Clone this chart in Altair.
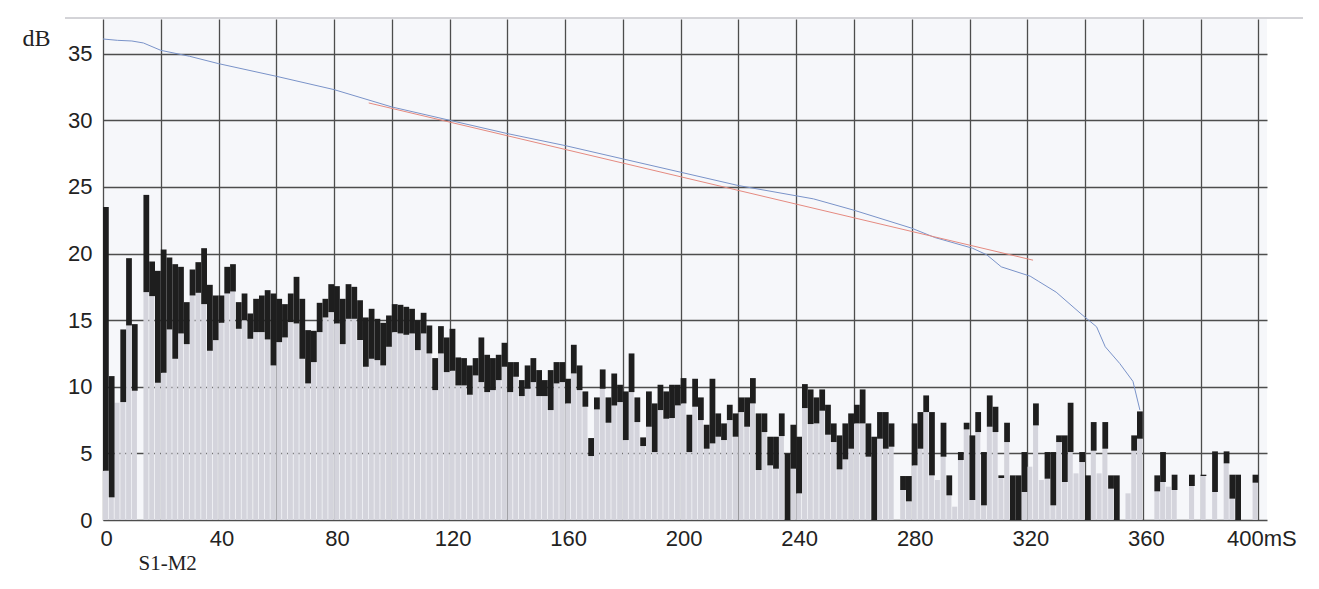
import altair as alt
import pandas as pd

# time bins (ms), one bar per 2 ms
t_ms = list(range(0, 400, 2))

# upper edge of the black segment (dB)
hi_db = [23.5, 10.8, 8.8, 14.3, 19.65, 14.7, 0, 24.4, 19.4, 18.7,
         20.3, 19.7, 19.2, 19.0, 16.35, 18.8, 19.35, 20.4, 17.65, 16.85,
         16.85, 19.0, 19.2, 16.35, 17.0, 15.5, 16.6, 16.85, 17.25, 17.0,
         16.6, 16.2, 17.0, 18.25, 16.6, 14.25, 14.2, 16.3, 16.6, 17.7,
         17.55, 16.6, 17.7, 17.5, 16.5, 15.2, 15.85, 15.1, 14.8, 15.35,
         16.2, 16.15, 16.0, 15.85, 15.0, 15.55, 14.6, 12.15, 14.55, 13.7,
         14.35, 12.2, 12.15, 11.6, 12.15, 13.7, 12.4, 12.15, 12.4, 13.3,
         11.85, 11.85, 10.5, 11.6, 12.15, 11.25, 10.5, 11.25, 11.85, 11.85,
         10.6, 13.15, 11.6, 9.65, 6.15, 9.2, 11.3, 9.2, 11.0, 10.15,
         9.65, 12.5, 9.2, 6.2, 9.65, 8.75, 10.15, 9.65, 10.15, 10.15,
         10.65, 7.9, 10.6, 9.2, 7.15, 10.6, 8.0, 7.25, 8.65, 8.0,
         9.2, 9.2, 10.65, 8.0, 8.0, 6.25, 6.25, 8.0, 5.0, 7.15,
         6.25, 10.2, 9.8, 9.2, 9.8, 8.65, 7.25, 6.35, 7.25, 8.0,
         8.65, 9.8, 7.25, 6.25, 8.1, 8.1, 7.25, 0, 3.3, 3.3,
         7.25, 8.1, 9.35, 8.1, 3.0, 7.3, 3.35, 1.0, 5.1, 7.3,
         6.35, 8.1, 5.1, 9.35, 8.5, 3.35, 7.3, 3.35, 3.35, 5.1,
         4.0, 8.75, 3.0, 5.1, 5.1, 6.35, 6.35, 8.8, 3.5, 5.1,
         3.35, 7.35, 3.5, 7.35, 3.35, 3.35, 0, 2.0, 6.35, 8.15,
         0, 0, 3.35, 5.1, 2.5, 3.4, 0, 0, 3.4, 0,
         3.4, 0, 5.15, 0, 5.15, 3.4, 3.4, 0, 0, 3.4]

# lower edge of the black segment = top of the grey bar (dB)
lo_db = [3.7, 1.7, 8.8, 8.85, 14.6, 9.7, 0, 17.1, 16.8, 10.3,
         11.05, 14.3, 12.1, 14.0, 13.2, 16.85, 17.05, 16.2, 12.7, 13.5,
         14.8, 17.0, 17.15, 14.35, 15.0, 13.6, 14.1, 14.1, 13.55, 11.6,
         13.35, 13.7, 14.85, 14.75, 12.1, 10.25, 11.85, 14.1, 15.2, 15.6,
         14.75, 13.2, 15.1, 15.1, 13.5, 11.5, 12.1, 12.0, 11.6, 13.0,
         14.1, 14.0, 13.9, 14.0, 12.75, 14.0, 12.5, 9.75, 12.5, 11.1,
         11.2, 10.1, 10.1, 9.4, 10.85, 10.35, 9.6, 9.75, 10.5, 11.5,
         9.6, 10.75, 9.3, 9.85, 10.35, 9.3, 9.3, 8.25, 10.25, 10.35,
         8.75, 11.0, 9.75, 8.5, 4.8, 8.3, 9.85, 7.3, 8.6, 8.85,
         6.0, 9.6, 7.35, 5.55, 7.0, 5.1, 8.25, 7.6, 7.65, 8.6,
         8.75, 5.1, 8.5, 7.5, 5.35, 5.75, 6.25, 6.0, 7.5, 6.25,
         8.1, 7.0, 8.75, 3.75, 6.6, 4.1, 3.85, 6.3, 0, 3.85,
         2.0, 8.4, 7.2, 7.25, 8.2, 6.4, 5.85, 3.8, 4.55, 5.35,
         7.25, 7.25, 4.75, 0, 6.1, 5.35, 5.5, 0, 2.25, 1.4,
         4.1, 5.35, 8.1, 3.35, 3.0, 4.75, 1.85, 1.0, 4.5, 6.8,
         1.5, 6.6, 1.1, 7.0, 6.6, 3.15, 5.85, 0, 0, 2.1,
         4.0, 7.1, 3.0, 3.1, 1.1, 5.85, 2.85, 5.1, 3.5, 4.35,
         0, 5.2, 3.5, 5.35, 2.35, 0, 0, 2.0, 5.2, 6.1,
         0, 0, 2.15, 2.85, 2.5, 2.25, 0, 0, 2.55, 0,
         3.3, 0, 2.1, 0, 4.25, 1.6, 0, 0, 0, 2.8]

# decay curve (blue)
decay_ms = [0, 5, 10, 14, 20, 30, 40, 60, 80, 100, 120, 140, 160, 180, 200,
            220, 246, 260, 280, 288, 301, 306, 311, 321, 324, 330, 339, 344,
            347, 352, 356.6, 359]
decay_db = [36.1, 36.0, 35.95, 35.8, 35.25, 34.8, 34.25, 33.3, 32.3, 31.0,
            30.0, 29.0, 28.1, 27.1, 26.1, 25.1, 24.1, 23.25, 21.9, 21.2,
            20.4, 19.9, 19.0, 18.3, 17.9, 17.1, 15.4, 14.5, 13.0, 11.75,
            10.4, 8.25]

# regression line (red)
fit_ms = [92, 322]
fit_db = [31.3, 19.5]

x_ticks = list(range(0, 401, 20))
y_ticks = [0, 5, 10, 15, 20, 25, 30, 35]

bars = pd.DataFrame({"t": t_ms, "lo": lo_db, "hi": hi_db})
decay = pd.DataFrame({"t": decay_ms, "db": decay_db})
fit = pd.DataFrame({"t": fit_ms, "db": fit_db})

xscale = alt.Scale(domain=[0, 403], nice=False, zero=False)
yscale = alt.Scale(domain=[0, 37.6], nice=False)

xaxis = alt.Axis(
    values=x_ticks, grid=True, ticks=False, domain=False,
    labelExpr="datum.value % 40 == 0 ? (datum.value == 400 ? '400mS' : datum.label) : ''",
    labelOverlap=False, labelFlush=False, labelPadding=8, labelOffset=3,
    title="S1-M2", titleAnchor="start", titleAlign="left", titleX=35, titleY=49,
    titleBaseline="alphabetic", titleFont="Liberation Serif", titleFontSize=21,
    titleFontWeight="normal",
)
yaxis = alt.Axis(
    values=y_ticks, grid=True, ticks=False, domain=False, labelPadding=11,
    title="dB", titleAngle=0, titleAlign="left", titleX=-81, titleY=26,
    titleBaseline="alphabetic", titleFont="Liberation Serif", titleFontSize=24,
    titleFontWeight="normal",
)

grey = alt.Chart(bars).transform_calculate(
    tg="datum.t + 1.75", z="0"
).mark_rect(color="#d4d4dc").encode(
    x=alt.X("t:Q", scale=xscale, axis=xaxis),
    x2="tg:Q",
    y=alt.Y("z:Q", scale=yscale, axis=yaxis),
    y2="lo:Q",
)

black = alt.Chart(bars).transform_filter(
    "datum.hi > datum.lo"
).transform_calculate(
    t2="datum.t + 2"
).mark_rect(color="#1e1e1e").encode(
    x=alt.X("t:Q", scale=xscale),
    x2="t2:Q",
    y=alt.Y("lo:Q", scale=yscale),
    y2="hi:Q",
)

decay_line = alt.Chart(decay).mark_line(color="#7a93c9", strokeWidth=1).encode(
    x=alt.X("t:Q", scale=xscale), y=alt.Y("db:Q", scale=yscale)
)
fit_line = alt.Chart(fit).mark_line(color="#e58a80", strokeWidth=1).encode(
    x=alt.X("t:Q", scale=xscale), y=alt.Y("db:Q", scale=yscale)
)

top_edge = alt.Chart(pd.DataFrame({"a": [0]})).mark_rule(
    color="#a8a8b0", strokeWidth=1
).encode(y=alt.value(-1), x=alt.value(-38), x2=alt.value(1200))

chart = alt.layer(grey, black, decay_line, fit_line, top_edge).properties(
    width=1164, height=501,
    padding={"left": 95, "top": 11, "right": 40, "bottom": 55},
    autosize=alt.AutoSizeParams(type="none"),
    background="#ffffff",
).configure_view(
    stroke=None, fill="#f6f7fa"
).configure_axis(
    gridColor="#4d4d4d", gridWidth=1.3, gridOpacity=1,
    labelFont="Liberation Sans", labelFontSize=22, labelColor="#222222",
    titleColor="#222222",
)

chart.save("out.html", embed_options={"renderer": "svg", "actions": False})
